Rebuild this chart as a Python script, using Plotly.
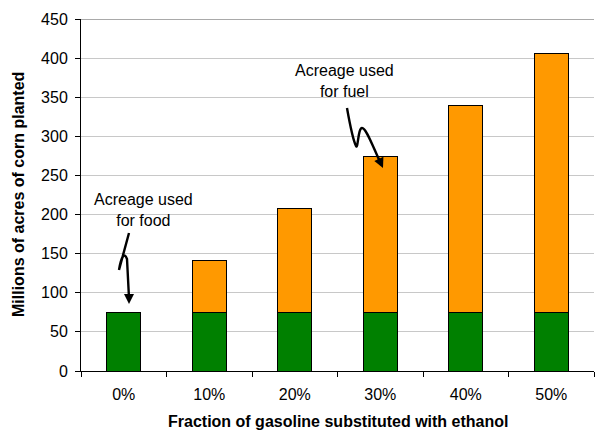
import plotly.graph_objects as go

categories = ["0%", "10%", "20%", "30%", "40%", "50%"]
food_acres = [75, 75, 75, 75, 75, 75]
fuel_acres = [0, 66, 133, 199, 265, 331]
y_ticks = [0, 50, 100, 150, 200, 250, 300, 350, 400, 450]

FONT = "Liberation Sans, Arial, sans-serif"
W, H = 595, 430
L, R, T, B = 81, 1, 19, 59
PW, PH = W - L - R, H - T - B


def px(xp):
    return (xp - L) / PW


def py(yp):
    return (H - B - yp) / PH


def path(points_cmds):
    out = []
    for cmd, pts in points_cmds:
        s = cmd + " " + " ".join(f"{px(a):.5f},{py(b):.5f}" for a, b in pts)
        out.append(s)
    return " ".join(out)


fig = go.Figure()
fig.add_bar(x=categories, y=food_acres, name="food", width=0.4,
            marker=dict(color="#008000", line=dict(color="black", width=1)))
fig.add_bar(x=categories, y=fuel_acres, name="fuel", width=0.4,
            marker=dict(color="#FF9900", line=dict(color="black", width=1)))

food_path = path([("M", [(129, 233)]), ("L", [(119, 270)]),
                  ("C", [(121, 258), (124, 251), (127, 259)]),
                  ("L", [(129, 298)])])
fuel_path = path([("M", [(347, 108)]),
                  ("C", [(350, 125), (353, 140), (356, 146)]),
                  ("C", [(358, 150), (358, 128), (362, 128)]),
                  ("C", [(366, 128), (371, 142), (381, 164)])])

shapes = [
    dict(type="line", xref="paper", yref="y", x0=0, x1=1, y0=450, y1=450,
         line=dict(color="#8c8c8c", width=1.5), layer="below"),
    dict(type="path", xref="paper", yref="paper", path=food_path,
         line=dict(color="black", width=2.4)),
    dict(type="path", xref="paper", yref="paper", path=fuel_path,
         line=dict(color="black", width=2.4)),
]

annotations = [
    dict(text="Acreage used<br>for food", xref="paper", yref="paper",
         x=px(143), y=py(210), showarrow=False, xanchor="center", yanchor="middle",
         font=dict(family=FONT, size=16, color="black")),
    dict(text="Acreage used<br>for fuel", xref="paper", yref="paper",
         x=px(344), y=py(81), showarrow=False, xanchor="center", yanchor="middle",
         font=dict(family=FONT, size=16, color="black")),
    dict(text="", xref="paper", yref="paper", x=px(129), y=py(304),
         ax=0, ay=-12, showarrow=True, arrowhead=2, arrowsize=1, arrowwidth=2,
         arrowcolor="black"),
    dict(text="", xref="paper", yref="paper", x=px(383), y=py(168),
         ax=-5, ay=-11, showarrow=True, arrowhead=2, arrowsize=1, arrowwidth=2,
         arrowcolor="black"),
    dict(text="<b>Fraction of gasoline substituted with ethanol</b>", xref="paper",
         yref="paper", x=0.5, y=py(421), showarrow=False, xanchor="center",
         yanchor="middle", font=dict(family=FONT, size=16, color="black")),
    dict(text="<b>Millions of acres of corn planted</b>", xref="paper", yref="paper",
         x=px(18), y=py(195), showarrow=False, textangle=-90, xanchor="center",
         yanchor="middle", font=dict(family=FONT, size=16, color="black")),
]

fig.update_layout(
    width=W, height=H, barmode="stack", showlegend=False,
    margin=dict(l=L, r=R, t=T, b=B, autoexpand=False),
    plot_bgcolor="white", paper_bgcolor="white",
    font=dict(family=FONT, size=16, color="black"),
    shapes=shapes, annotations=annotations,
    xaxis=dict(showline=True, linecolor="black", linewidth=1, ticks="outside",
               tickson="boundaries", ticklen=5, tickcolor="black", showgrid=False,
               ticklabelstandoff=9, range=[-0.5, 5.5], automargin=False),
    yaxis=dict(range=[0, 450], tickvals=y_ticks, showline=True, linecolor="black",
               linewidth=1, ticks="outside", ticklen=5, tickcolor="black",
               showgrid=True, gridcolor="#c8c8c8", gridwidth=1, zeroline=False,
               ticklabelstandoff=4, automargin=False),
)

fig.write_html("out.html", config={"displayModeBar": False})

with open("out.html", "r", encoding="utf-8") as f:
    html = f.read()
html = html.replace("<head>", "<head><style>html,body{margin:0;padding:0;}</style>", 1)
with open("out.html", "w", encoding="utf-8") as f:
    f.write(html)
